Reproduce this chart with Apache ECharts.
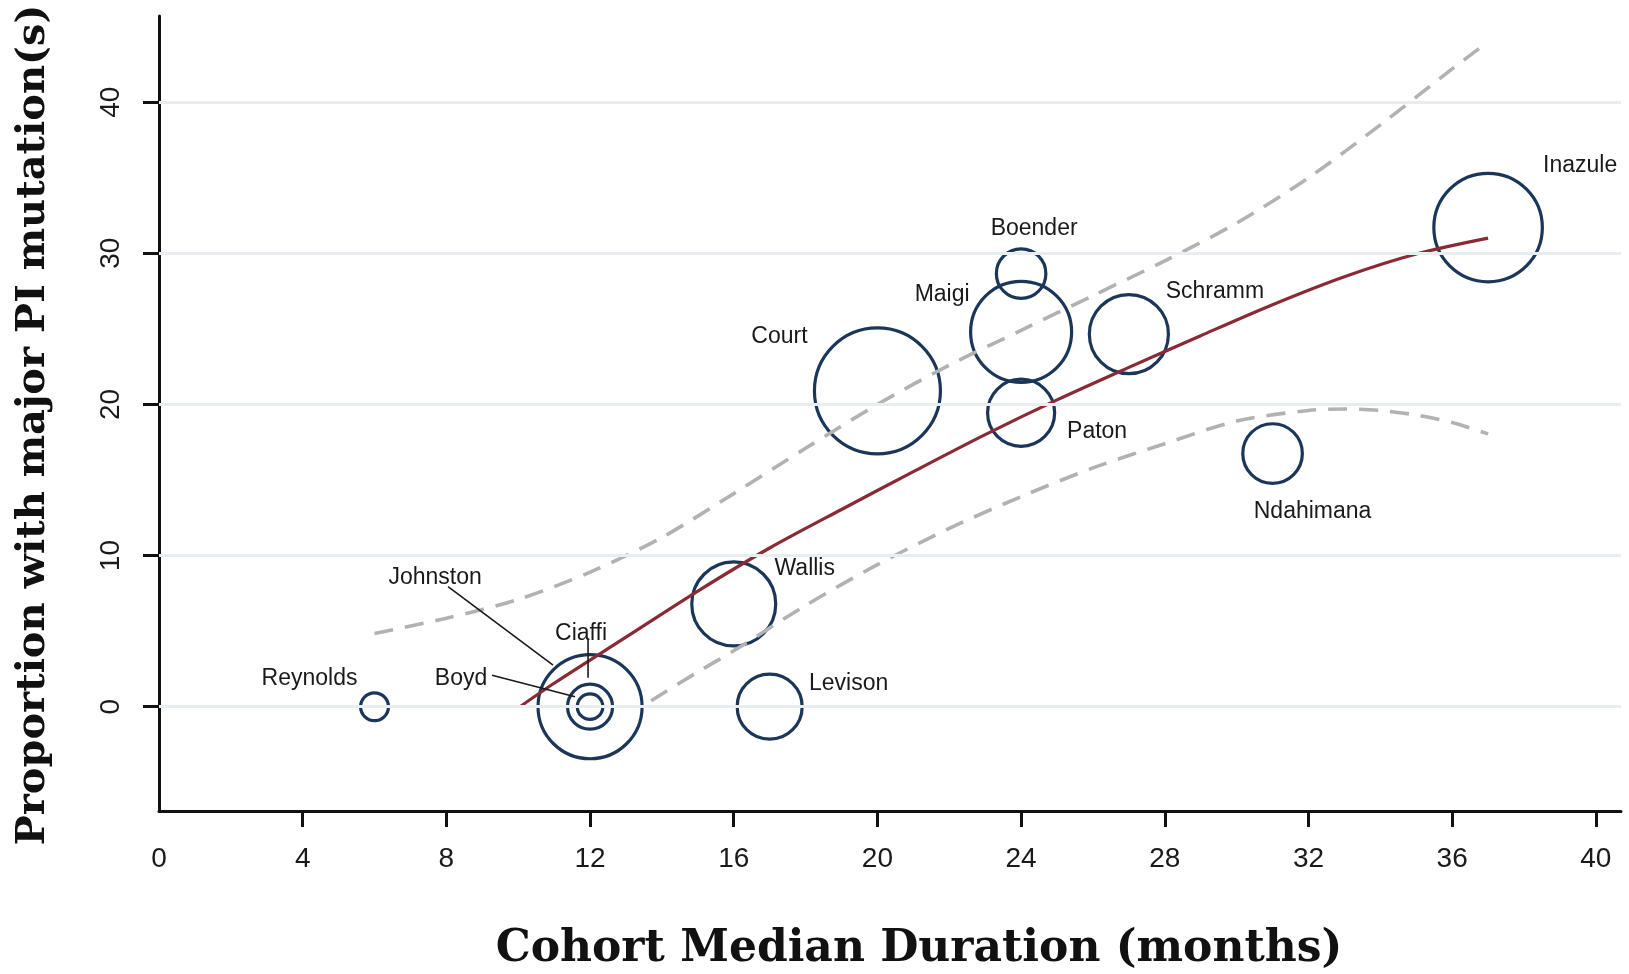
<!DOCTYPE html>
<html><head><meta charset="utf-8">
<script src="https://cdn.jsdelivr.net/npm/echarts@6/dist/echarts.min.js"></script>
<style>html,body{margin:0;padding:0;background:#fff}#chart{width:1629px;height:974px}</style>
</head><body><div id="chart"></div>
<script>
// ---- data ----
const studies    = ['Reynolds','Boyd','Ciaffi','Johnston','Wallis','Levison','Court','Boender','Maigi','Paton','Schramm','Ndahimana','Inazule'];
const duration   = [6, 12, 12, 12, 16, 17, 20, 24, 24, 24, 27, 31, 37];
const proportion = [0, 0, 0, 0, 6.8, 0, 20.9, 28.65, 24.8, 19.45, 24.65, 16.75, 31.7];
const weight     = [31, 26, 81, 433, 282, 169, 635, 98, 408, 180, 250, 142, 471];

const fitX   = [10.05, 11, 13, 15, 17, 19, 21, 23, 25, 27, 29, 31, 33, 35, 37];
const fitY   = [0, 1.55, 4.6, 7.65, 10.5, 13.05, 15.55, 18.0, 20.3, 22.45, 24.55, 26.6, 28.45, 29.95, 31.0];
const upperX = [6, 8, 10, 12, 14, 16, 18, 20, 22, 24, 26, 28, 30, 32, 34, 36, 37];
const upperY = [4.85, 5.85, 7.1, 8.9, 11.2, 14.1, 17.1, 20.0, 22.6, 24.9, 27.2, 29.5, 32.0, 35.0, 38.5, 42.2, 44.0];
const lowerX = [13.7, 15, 16, 18, 20, 22, 24, 26, 28, 30, 32, 33, 34, 35, 36, 37];
const lowerY = [0.4, 2.3, 3.7, 6.7, 9.4, 11.8, 13.9, 15.8, 17.4, 18.9, 19.6, 19.7, 19.6, 19.3, 18.8, 18.05];

const xTickValues  = [4, 8, 12, 16, 20, 24, 28, 32, 36, 40];
const xLabelValues = [0, 4, 8, 12, 16, 20, 24, 28, 32, 36, 40];
const yTickValues  = [0, 10, 20, 30, 40];
const xTitle = 'Cohort Median Duration (months)';
const yTitle = 'Proportion with major PI mutation(s)';

// ---- layout (pixel offsets of labels from their bubble) ----
const labelOffset = {
  Reynolds: [-65, -28], Boyd: [-129, -28], Johnston: [-155, -129], Ciaffi: [-9, -73],
  Wallis: [71, -35], Levison: [79, -23], Court: [-98, -54], Boender: [13, -45],
  Maigi: [-79, -37], Paton: [76, 19], Schramm: [86, -42], Ndahimana: [40, 58], Inazule: [92, -62]
};
const leaders = {
  Johnston: [[-142, -120], [-37, -41.5]],
  Boyd: [[-98, -31.5], [-15, -10]],
  Ciaffi: [[-2, -68], [-2, -29]]
};

const pair = (xs, ys) => xs.map((x, i) => [x, ys[i]]);
const navy = '#1b3658';
const dash = { color: '#b2b2b2', width: 3.6, type: [19, 12] };

const chart = echarts.init(document.getElementById('chart'));
const option = {
  backgroundColor: '#fff',
  animation: false,
  grid: { left: 159, right: 8, top: 16, bottom: 163, containLabel: false, outerBoundsMode: 'none' },
  xAxis: {
    type: 'value', min: 0, max: 40.7,
    axisLine: { show: true, onZero: false, lineStyle: { color: '#111', width: 3 } },
    axisTick: { show: true, length: 16, lineStyle: { color: '#111', width: 3 }, customValues: xTickValues },
    axisLabel: { customValues: xLabelValues, margin: 34, fontFamily: 'Liberation Sans', fontSize: 28, color: '#1a1a1a' },
    splitLine: { show: false }
  },
  yAxis: {
    type: 'value', min: -6.9, max: 45.7,
    axisLine: { show: true, onZero: false, lineStyle: { color: '#111', width: 3 } },
    axisTick: { show: true, length: 16, lineStyle: { color: '#111', width: 3 }, customValues: yTickValues },
    axisLabel: { customValues: yTickValues, rotate: 90, margin: 34, fontFamily: 'Liberation Sans', fontSize: 28, color: '#1a1a1a' },
    splitLine: { show: false }
  },
  series: [
    {
      type: 'line', name: 'grid', data: [], z: 0, silent: true,
      markLine: {
        silent: true, symbol: 'none', label: { show: false },
        lineStyle: { color: '#e8edef', width: 3, type: 'solid' },
        data: yTickValues.map(v => ({ yAxis: v }))
      }
    },
    {
      type: 'scatter', name: 'studies', z: 2,
      symbol: 'circle',
      data: studies.map((s, i) => ({
        name: s, value: [duration[i], proportion[i]],
        symbolSize: 5 * Math.sqrt(weight[i]),
        label: { offset: labelOffset[s] }
      })),
      itemStyle: { color: 'rgba(0,0,0,0)', borderColor: navy, borderWidth: 3.2, opacity: 1 },
      label: {
        show: true, position: 'inside', formatter: p => p.name,
        fontFamily: 'Liberation Sans', fontSize: 23, color: '#1a1a1a'
      },
      emphasis: { disabled: true }
    },
    {
      type: 'line', name: 'upper', data: pair(upperX, upperY), smooth: 0.3, showSymbol: false, z: 3,
      lineStyle: dash
    },
    {
      type: 'line', name: 'lower', data: pair(lowerX, lowerY), smooth: 0.3, showSymbol: false, z: 3,
      lineStyle: dash
    },
    {
      type: 'line', name: 'fit', data: pair(fitX, fitY), smooth: 0.3, showSymbol: false, z: 4,
      lineStyle: { color: '#8a2a35', width: 3.2 }
    }
  ]
};
chart.setOption(option);

// axis titles and leader lines from labels to their bubbles
const gfx = [
  { type: 'text', x: 919, y: 950, z: 10,
    style: { text: xTitle, fontFamily: 'DejaVu Serif', fontWeight: 'bold', fontSize: 44, fill: '#111', align: 'center', verticalAlign: 'middle' } },
  { type: 'text', x: 34, y: 425, rotation: Math.PI / 2, z: 10,
    style: { text: yTitle, fontFamily: 'DejaVu Serif', fontWeight: 'bold', fontSize: 40, fill: '#111', align: 'center', verticalAlign: 'middle' } }
];
Object.keys(leaders).forEach(name => {
  const i = studies.indexOf(name);
  const c = chart.convertToPixel({ gridIndex: 0 }, [duration[i], proportion[i]]);
  const [a, b] = leaders[name];
  gfx.push({
    type: 'line', z: 5,
    shape: { x1: c[0] + a[0], y1: c[1] + a[1], x2: c[0] + b[0], y2: c[1] + b[1] },
    style: { stroke: '#1a1a1a', lineWidth: 1.6 }
  });
});
chart.setOption({ graphic: gfx });
</script>
</body></html>
